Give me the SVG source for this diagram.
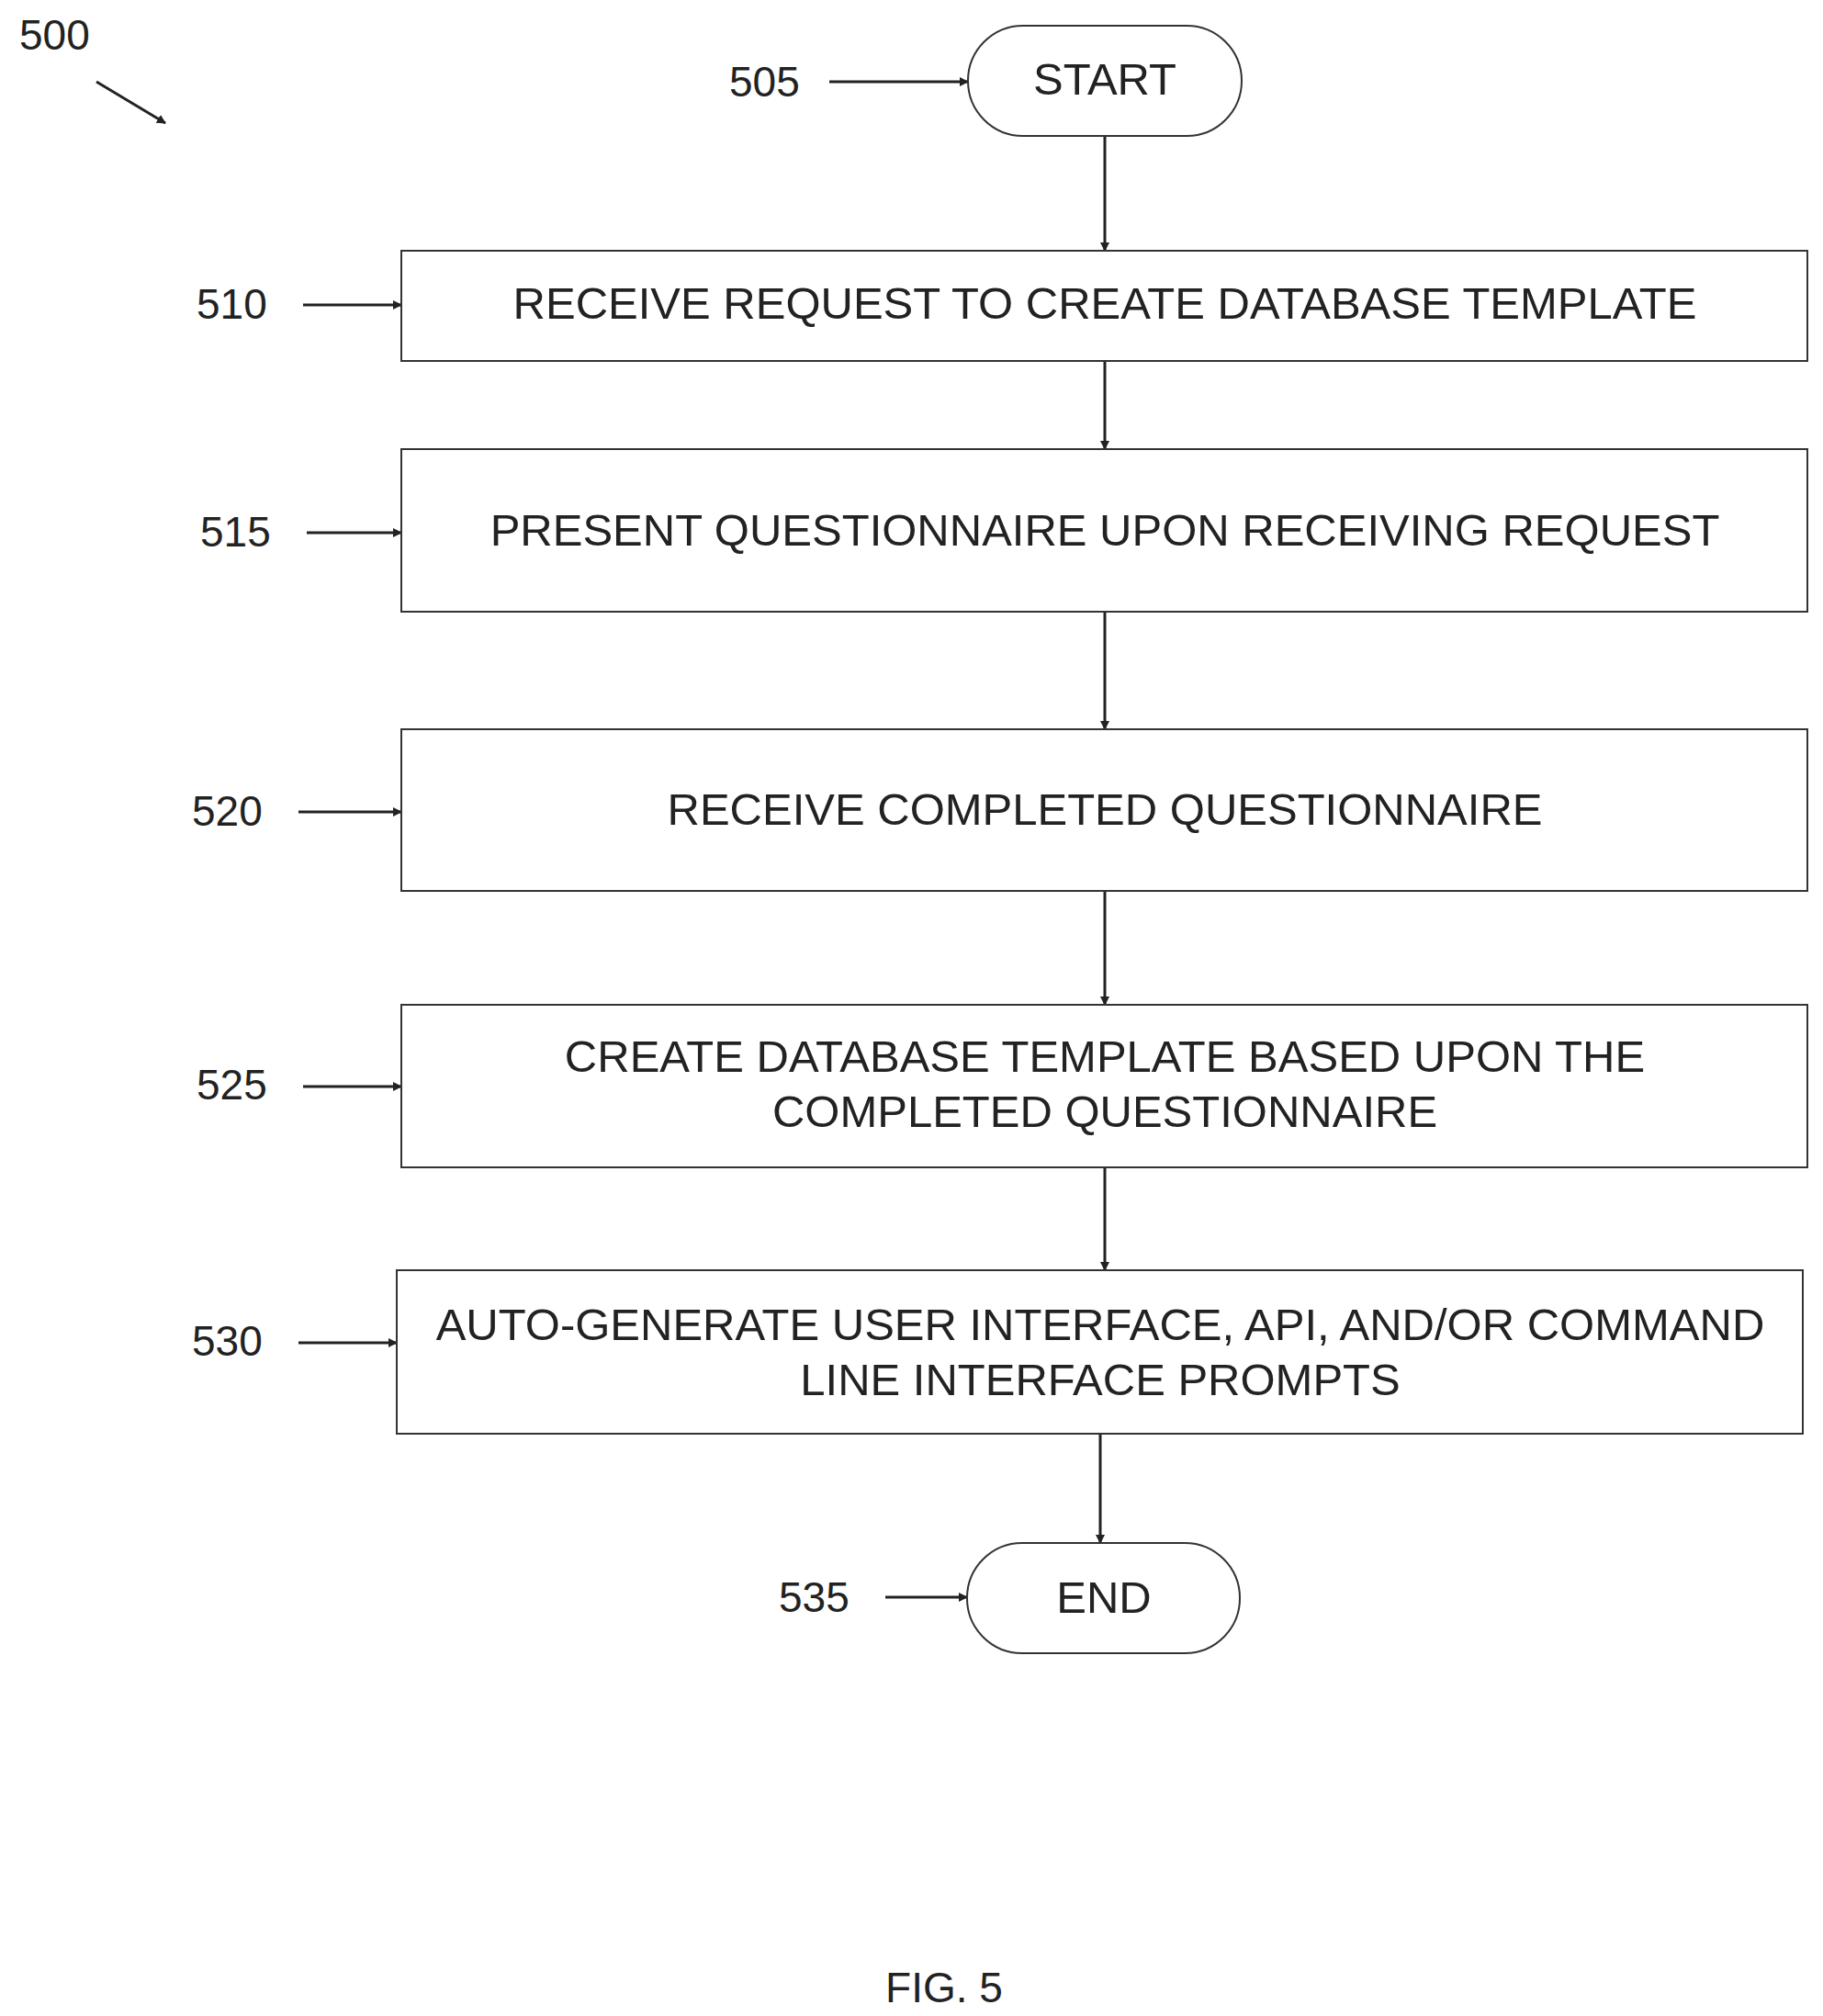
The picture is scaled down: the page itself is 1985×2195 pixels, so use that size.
<svg xmlns="http://www.w3.org/2000/svg" width="1985" height="2195" viewBox="0 0 1985 2195">
<defs>
<marker id="ah" markerWidth="10" markerHeight="10" refX="9" refY="5" orient="auto" markerUnits="userSpaceOnUse" viewBox="0 0 10 10"><path d="M0,0 L10,5 L0,10 z" fill="#222"/></marker>
<style>
text{font-family:"Liberation Sans",Arial,sans-serif;fill:#222}
.t{font-size:49px;text-anchor:middle}
.l{font-size:46px}
.b{fill:#fff;stroke:#333;stroke-width:2}
.c{stroke:#222;stroke-width:3;fill:none;marker-end:url(#ah)}
</style>
</defs>
<rect width="1985" height="2195" fill="#fff"/>
<text class="l" x="21" y="54">500</text>
<g id="connectors">
<line class="c" x1="105" y1="89" x2="180" y2="134"/>
<line class="c" x1="903" y1="89" x2="1054" y2="89"/>
<line class="c" x1="330" y1="332" x2="437" y2="332"/>
<line class="c" x1="334" y1="580" x2="437" y2="580"/>
<line class="c" x1="325" y1="884" x2="437" y2="884"/>
<line class="c" x1="330" y1="1183" x2="437" y2="1183"/>
<line class="c" x1="325" y1="1462" x2="432" y2="1462"/>
<line class="c" x1="964" y1="1739" x2="1053" y2="1739"/>
<line class="c" x1="1203" y1="148" x2="1203" y2="273"/>
<line class="c" x1="1203" y1="393" x2="1203" y2="489"/>
<line class="c" x1="1203" y1="666" x2="1203" y2="794"/>
<line class="c" x1="1203" y1="970" x2="1203" y2="1094"/>
<line class="c" x1="1203" y1="1271" x2="1203" y2="1383"/>
<line class="c" x1="1198" y1="1561" x2="1198" y2="1680"/>
</g>
<g id="n505"><rect class="b" x="1054" y="28" width="298" height="120" rx="60"/><text class="t" x="1203" y="103">START</text><text class="l" x="794" y="105">505</text></g>
<g id="n510"><rect class="b" x="437" y="273" width="1531" height="120"/><text class="t" x="1203" y="347">RECEIVE REQUEST TO CREATE DATABASE TEMPLATE</text><text class="l" x="214" y="347">510</text></g>
<g id="n515"><rect class="b" x="437" y="489" width="1531" height="177"/><text class="t" x="1203" y="594">PRESENT QUESTIONNAIRE UPON RECEIVING REQUEST</text><text class="l" x="218" y="595">515</text></g>
<g id="n520"><rect class="b" x="437" y="794" width="1531" height="176"/><text class="t" x="1203" y="898">RECEIVE COMPLETED QUESTIONNAIRE</text><text class="l" x="209" y="899">520</text></g>
<g id="n525"><rect class="b" x="437" y="1094" width="1531" height="177"/><text class="t" x="1203" y="1167">CREATE DATABASE TEMPLATE  BASED UPON THE</text><text class="t" x="1203" y="1227">COMPLETED QUESTIONNAIRE</text><text class="l" x="214" y="1197">525</text></g>
<g id="n530"><rect class="b" x="432" y="1383" width="1531" height="178"/><text class="t" x="1198" y="1459">AUTO-GENERATE USER INTERFACE, API, AND/OR COMMAND</text><text class="t" x="1198" y="1519">LINE INTERFACE PROMPTS</text><text class="l" x="209" y="1476">530</text></g>
<g id="n535"><rect class="b" x="1053" y="1680" width="297" height="120" rx="60"/><text class="t" x="1202" y="1756">END</text><text class="l" x="848" y="1755">535</text></g>
<text class="t" x="1028" y="2180" style="font-size:46px">FIG. 5</text>
</svg>
